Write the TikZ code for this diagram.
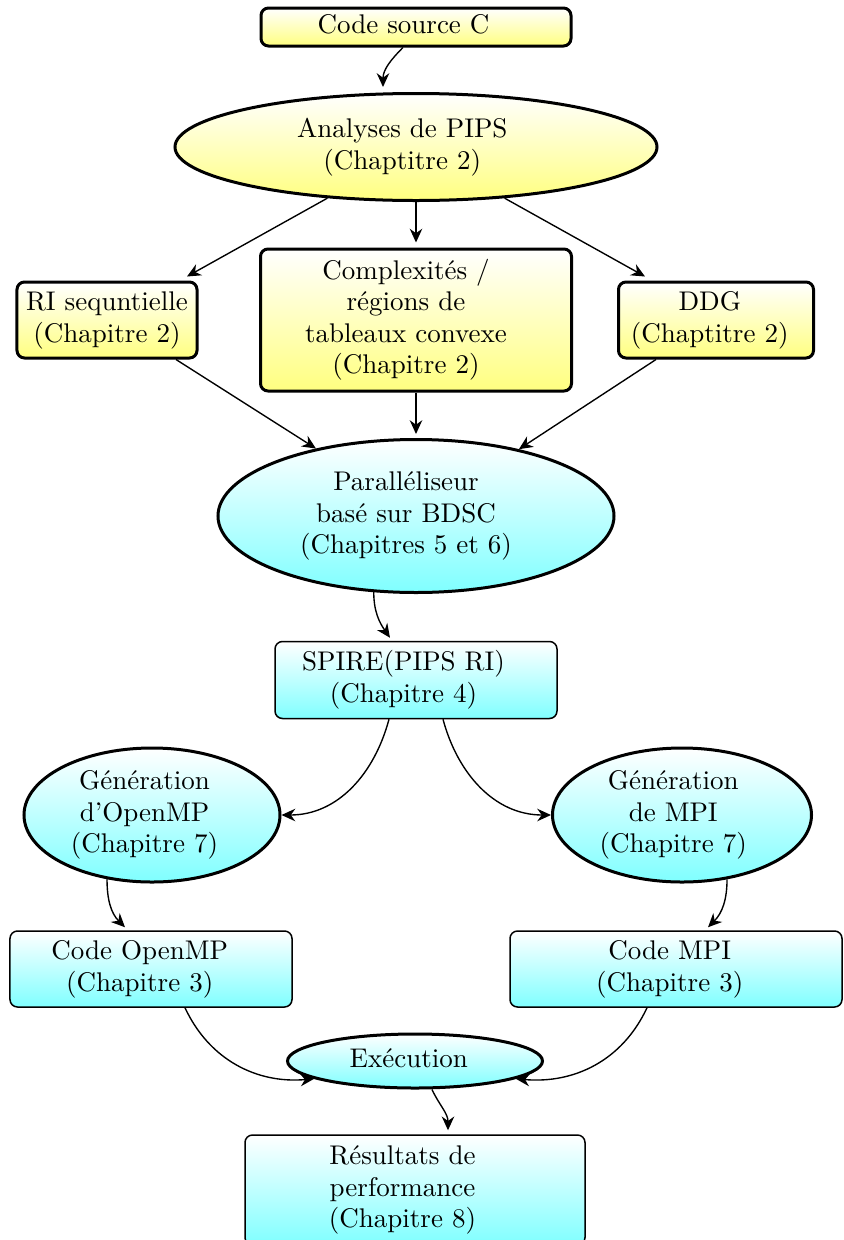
\documentclass[tikz,border=0pt]{standalone}
\usetikzlibrary{shapes.geometric,arrows.meta}
\newcommand\ntxt[2][8pt]{\begin{tabular}{@{}c@{\hspace{#1}}}#2\end{tabular}}
\begin{document}
\begin{tikzpicture}[x=0.4pt,y=-0.4pt,
 base/.style={draw, inner sep=0pt, font=\fontsize{10.8}{12.6}\selectfont},
 ybox/.style={base, very thick, rounded corners=3pt, top color=white, bottom color=yellow!50},
 yell/.style={base, ellipse, very thick, top color=white, bottom color=yellow!50},
 cbox/.style={base, semithick, rounded corners=3pt, top color=white, bottom color=cyan!50},
 cell/.style={base, ellipse, very thick, top color=white, bottom color=cyan!50},
 arr/.style={-{Stealth[length=5.5pt,width=5pt]}, line width=0.55pt}]
\useasboundingbox (0,0) rectangle (843,1240);

\node[ybox, minimum width=124pt, minimum height=15.2pt] (src) at (416,27) {\ntxt[10pt]{Code source C}};
\node[yell, minimum width=192.8pt, minimum height=42.8pt] (ana) at (416,147) {\ntxt[11pt]{Analyses de PIPS\\(Chaptitre 2)}};
\node[ybox, minimum width=72pt, minimum height=30.4pt] (ri) at (107,320) {\ntxt[0pt]{RI sequntielle\\(Chapitre 2)}};
\node[ybox, minimum width=124.4pt, minimum height=56.8pt] (cx) at (416,320) {\ntxt[8pt]{Complexités /\\régions de\\tableaux convexe\\(Chapitre 2)}};
\node[ybox, minimum width=78pt, minimum height=30.4pt] (ddg) at (716,320) {\ntxt[5pt]{DDG\\(Chaptitre 2)}};
\node[cell, minimum width=158.4pt, minimum height=61.2pt] (par) at (416,516) {\ntxt[8pt]{Paralléliseur\\basé sur BDSC\\(Chapitres 5 et 6)}};
\node[cbox, minimum width=112.8pt, minimum height=30.8pt] (spire) at (416,680) {\ntxt[10pt]{SPIRE(PIPS RI)\\(Chapitre 4)}};
\node[cell, minimum width=102.4pt, minimum height=53.6pt] (gomp) at (152,815) {\ntxt[6pt]{Génération\\d'OpenMP\\(Chapitre 7)}};
\node[cell, minimum width=103.6pt, minimum height=53.6pt] (gmpi) at (682,815) {\ntxt[7pt]{Génération\\de MPI\\(Chapitre 7)}};
\node[cbox, minimum width=112.8pt, minimum height=30.4pt] (comp) at (151,969) {\ntxt[9pt]{Code OpenMP\\(Chapitre 3)}};
\node[cbox, minimum width=132.8pt, minimum height=30.4pt] (cmpi) at (676,969) {\ntxt[5pt]{Code MPI\\(Chapitre 3)}};
\node[cell, minimum width=102pt, minimum height=21.6pt] (exe) at (415,1061) {\ntxt[5pt]{Exécution}};
\node[cbox, minimum width=136pt, minimum height=44pt] (res) at (415,1190) {\ntxt[10pt]{Résultats de\\performance\\(Chapitre 8)}};

\draw[arr] ([xshift=-5.2pt]src.south) to[out=225,in=90] ([xshift=-13.2pt,yshift=2pt]ana.north);
\draw[arr] (ana.210) -- ([xshift=32pt,yshift=1.6pt]ri.north);
\draw[arr] (ana.south) -- ([yshift=2pt]cx.north);
\draw[arr] (ana.-30) -- ([xshift=-28.4pt,yshift=1.6pt]ddg.north);
\draw[arr] ([xshift=27.6pt]ri.south) -- (par.146);
\draw[arr] (cx.south) -- ([yshift=1.6pt]par.north);
\draw[arr] ([xshift=-24pt]ddg.south) -- (par.33);
\draw[arr] (par.241) to[out=-90,in=125] ([xshift=-10.4pt,yshift=1.2pt]spire.north);
\draw[arr] ([xshift=-10.8pt]spire.south) to[out=-105,in=0] (gomp.east);
\draw[arr] ([xshift=10.8pt]spire.south) to[out=-75,in=180] (gmpi.west);
\draw[arr] (gomp.235) to[out=-90,in=135] ([xshift=-10.4pt,yshift=1.2pt]comp.north);
\draw[arr] (gmpi.305) to[out=-90,in=45] ([xshift=12.8pt,yshift=1.2pt]cmpi.north);
\draw[arr] ([xshift=13.6pt]comp.south) to[out=-65,in=185] (exe.190);
\draw[arr] ([xshift=-11.6pt]cmpi.south) to[out=-115,in=-5] (exe.-10);
\draw[arr] ([xshift=6.8pt]exe.south) to[out=-65,in=90] ([xshift=13.2pt,yshift=1.6pt]res.north);
\end{tikzpicture}
\end{document}
